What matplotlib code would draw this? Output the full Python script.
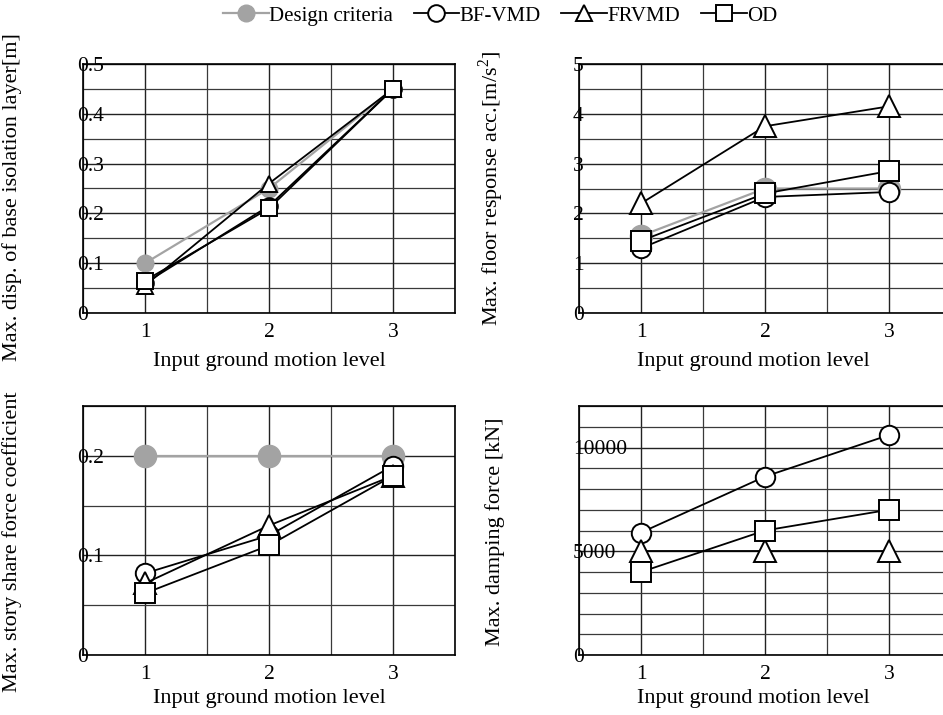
import numpy as np
import matplotlib
matplotlib.use("Agg")
import matplotlib.pyplot as plt
from matplotlib.ticker import MultipleLocator

plt.rcParams['font.family'] = ['Liberation Serif', 'DejaVu Serif']
plt.rcParams['mathtext.fontset'] = 'custom'
plt.rcParams['mathtext.rm'] = 'Liberation Serif'

levels = [1, 2, 3]

# Max. disp. of base isolation layer [m]
disp_design = [0.10, 0.25, 0.45]
disp_bfvmd = [0.06, 0.215, 0.45]
disp_frvmd = [0.055, 0.26, 0.45]
disp_od = [0.065, 0.21, 0.45]

# Max. floor response acc. [m/s2]
acc_design = [1.55, 2.5, 2.5]
acc_bfvmd = [1.3, 2.33, 2.43]
acc_frvmd = [2.2, 3.75, 4.15]
acc_od = [1.45, 2.4, 2.85]

# Max. story shear force coefficient
shear_design = [0.2, 0.2, 0.2]
shear_bfvmd = [0.082, 0.12, 0.19]
shear_frvmd = [0.072, 0.13, 0.18]
shear_od = [0.062, 0.11, 0.18]

# Max. damping force [kN]
force_bfvmd = [5900, 8600, 10600]
force_frvmd = [5000, 5000, 5000]
force_od = [4000, 6000, 7000]

W, H = 943, 715
fig = plt.figure(figsize=(W / 100, H / 100), dpi=100)

FS = 15.5
LFS = 16
GRAY = '#a3a3a3'


def make_ax(left_px, top_px):
    return fig.add_axes([left_px / W, 1 - (top_px + 249) / H, 372 / W, 249 / H])


def style(ax, ymax, major, minor, yticklabels, ylabel, lab_x, lab_y, xlab_y, xlab_x=0.5):
    ax.set_xlim(0.5, 3.5)
    ax.set_ylim(0, ymax)
    ax.set_xticks(levels)
    ax.set_xticklabels([str(v) for v in levels], fontsize=FS)
    ax.xaxis.set_minor_locator(MultipleLocator(0.5))
    ax.set_yticks(np.arange(0, ymax + 1e-9, major))
    ax.set_yticklabels(yticklabels, fontsize=FS, ha='left')
    ax.yaxis.set_minor_locator(MultipleLocator(minor))
    ax.tick_params(axis='x', which='both', length=0, pad=7)
    ax.tick_params(axis='y', which='both', length=0, pad=4.3)
    ax.grid(True, which='major', color='#222222', lw=1.0)
    ax.grid(True, which='minor', color='#3a3a3a', lw=0.9)
    ax.set_axisbelow(True)
    for s in ax.spines.values():
        s.set_color('black')
        s.set_linewidth(1.2)
    ax.set_ylabel(ylabel, fontsize=LFS)
    ax.yaxis.set_label_coords(lab_x, lab_y)
    ax.set_xlabel('Input ground motion level', fontsize=LFS)
    ax.xaxis.label.set_va('center')
    ax.xaxis.set_label_coords(xlab_x, xlab_y)


def draw(ax, design, bf, fr, od):
    if design is not None:
        ax.plot(levels, design, color=GRAY, lw=1.6, marker='o', ms=16,
                mfc=GRAY, mec=GRAY, label='Design criteria', zorder=3)
    ax.plot(levels, bf, color='black', lw=1.3, marker='o', ms=14,
            mfc='white', mec='black', mew=1.4, label='BF-VMD', zorder=4)
    ax.plot(levels, fr, color='black', lw=1.3, marker='^', ms=16,
            mfc='white', mec='black', mew=1.4, label='FRVMD', zorder=5)
    ax.plot(levels, od, color='black', lw=1.3, marker='s', ms=14,
            mfc='white', mec='black', mew=1.4, label='OD', zorder=6)


ax1 = make_ax(83, 64)
draw(ax1, disp_design, disp_bfvmd, disp_frvmd, disp_od)
style(ax1, 0.5, 0.1, 0.05, ['0', '0.1', '0.2', '0.3', '0.4', '0.5'],
      'Max. disp. of base isolation layer[m]', -0.164, 0.466, -0.193)

ax2 = make_ax(579, 64)
draw(ax2, acc_design, acc_bfvmd, acc_frvmd, acc_od)
style(ax2, 5, 1, 0.5, ['0', '1', '2', '3', '4', '5'],
      r'Max. floor response acc.[m/s$^2$]', -0.196, 0.5, -0.193, 0.468)

ax3 = make_ax(83, 406)
draw(ax3, shear_design, shear_bfvmd, shear_frvmd, shear_od)
style(ax3, 0.25, 0.1, 0.05, ['0', '0.1', '0.2'],
      'Max. story share force coefficient', -0.164, 0.454, -0.173)

ax4 = make_ax(579, 406)
draw(ax4, None, force_bfvmd, force_frvmd, force_od)
style(ax4, 12000, 5000, 1000, ['0', '5000', '10000'],
      'Max. damping force [kN]', -0.199, 0.494, -0.173, 0.468)

handles, labels = ax1.get_legend_handles_labels()
for h in handles:
    h.set_markersize(12)
fig.legend(handles, labels, loc='center', bbox_to_anchor=(500 / W, 1 - 16 / H),
           ncol=4, frameon=False, fontsize=15, handlelength=2.2,
           handletextpad=0.0, columnspacing=1.0, borderaxespad=0)

fig.savefig('out.png', dpi=100)
